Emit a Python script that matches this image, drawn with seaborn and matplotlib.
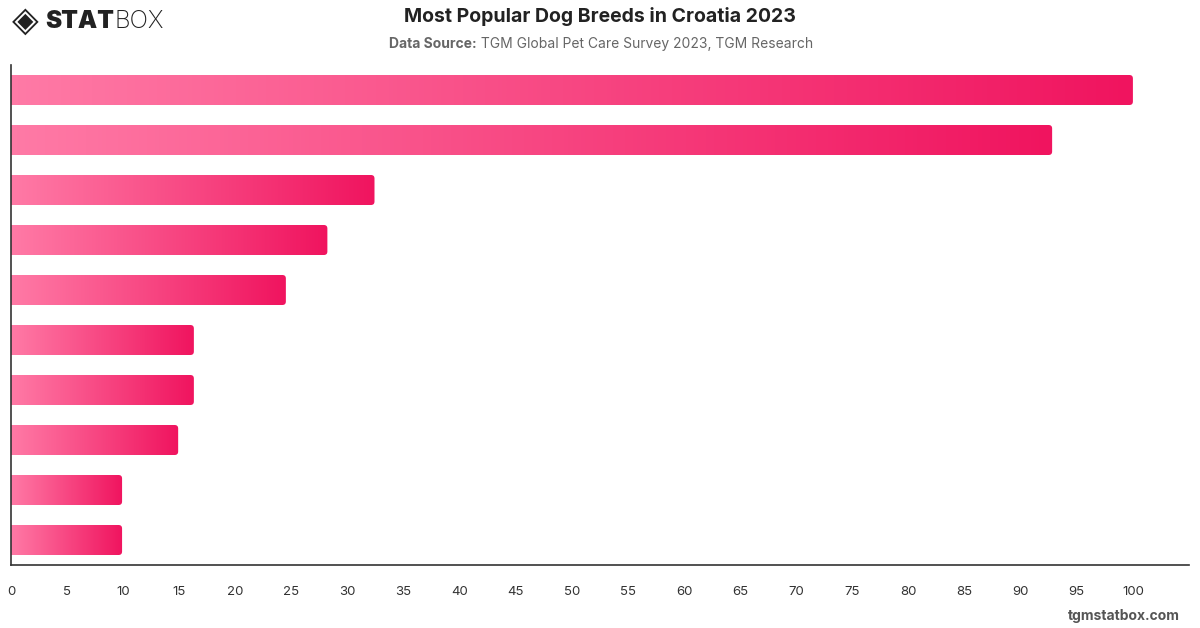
import numpy as np
import pandas as pd
import matplotlib
matplotlib.use('Agg')
import matplotlib.pyplot as plt
import seaborn as sns
from matplotlib.colors import LinearSegmentedColormap
from matplotlib.patches import FancyBboxPatch

## Data (breed names are not shown)
ranks = ['1', '2', '3', '4', '5', '6', '7', '8', '9', '10']
shares = [100.0, 92.8, 32.4, 28.2, 24.5, 16.3, 16.3, 14.9, 9.9, 9.9]
x_ticks = list(range(0, 101, 5))

TITLE = 'Most Popular Dog Breeds in Croatia 2023'
SOURCE_BOLD = 'Data Source:'
SOURCE_TEXT = ' TGM Global Pet Care Survey 2023, TGM Research'

df = pd.DataFrame({'rank': ranks, 'share': shares})

sns.set_style('white')
plt.rcParams['font.family'] = ['Inter', 'DejaVu Sans']

fig = plt.figure(figsize=(12, 6.28), dpi=100)
ax = fig.add_axes([11 / 1200, 63 / 628, 1178 / 1200, 500 / 628])

sns.barplot(data=df, x='share', y='rank', orient='h', width=0.6,
            color='#f0145f', ax=ax)

ax.set_xlim(0, 105)
ax.set_ylim(9.5, -0.5)

# gradient fill, rounded on the right end
cmap = LinearSegmentedColormap.from_list('pink', ['#ff7aa6', '#f0145f'])
grad = np.linspace(0, 1, 256).reshape(1, -1)
px_x = 1178 / 105
px_y = 50.0
for bar in list(ax.patches):
    x0, y0 = bar.get_x(), bar.get_y()
    w, h = bar.get_width(), bar.get_height()
    bar.set_visible(False)
    rad = 3.5 / px_x
    clip = FancyBboxPatch((x0 - 1.5, y0), w + 1.5, h,
                          boxstyle='round,pad=0,rounding_size={}'.format(rad),
                          mutation_aspect=px_x / px_y,
                          transform=ax.transData, facecolor='none', edgecolor='none')
    ax.add_patch(clip)
    im = ax.imshow(grad, cmap=cmap, aspect='auto', extent=(x0, x0 + w, y0 + h, y0),
                   interpolation='bicubic', zorder=2)
    im.set_clip_path(clip)

ax.set_xlim(0, 105)
ax.set_ylim(9.5, -0.5)
ax.set_xticks(x_ticks)
ax.set_xticklabels([str(t) for t in x_ticks])
ax.set_yticks([])
ax.set_xlabel('')
ax.set_ylabel('')
ax.tick_params(axis='x', length=0, pad=15, labelsize=9.5, labelcolor='#333333')
for s in ['top', 'right']:
    ax.spines[s].set_visible(False)
for s in ['left', 'bottom']:
    ax.spines[s].set_color('#333333')
    ax.spines[s].set_linewidth(1.2)

## header
fig.text(0.5, 1 - 17 / 628, TITLE, ha='center', va='center', fontsize=14,
         fontweight='bold', color='#222222')
t1 = fig.text(0.5, 1 - 44 / 628, SOURCE_BOLD + SOURCE_TEXT, ha='center', va='center',
              fontsize=10, color='#666666', alpha=0)
fig.canvas.draw()
bb = t1.get_window_extent()
tb = fig.text(bb.x0 / 1200, 1 - 44 / 628, SOURCE_BOLD, ha='left', va='center',
              fontsize=10, fontweight='bold', color='#666666')
bb2 = tb.get_window_extent()
fig.text(bb2.x1 / 1200, 1 - 44 / 628, SOURCE_TEXT, ha='left', va='center',
         fontsize=10, color='#666666')

## logo
fig.text(12 / 1200, 1 - 21 / 628, '\u25c8', ha='left', va='center', fontsize=25,
         color='#222222', family='DejaVu Sans')
ts = fig.text(45 / 1200, 1 - 21 / 628, 'STAT', ha='left', va='center', fontsize=17.5,
              fontweight='black', color='#222222')
fig.canvas.draw()
bs = ts.get_window_extent()
fig.text((bs.x1 + 1) / 1200, 1 - 21 / 628, 'BOX', ha='left', va='center', fontsize=17.5,
         fontweight='light', color='#222222')

fig.text(1180 / 1200, 1 - 616 / 628, 'tgmstatbox.com', ha='right', va='center',
         fontsize=10, fontweight='bold', color='#555555')

fig.savefig('out.png', dpi=100)
